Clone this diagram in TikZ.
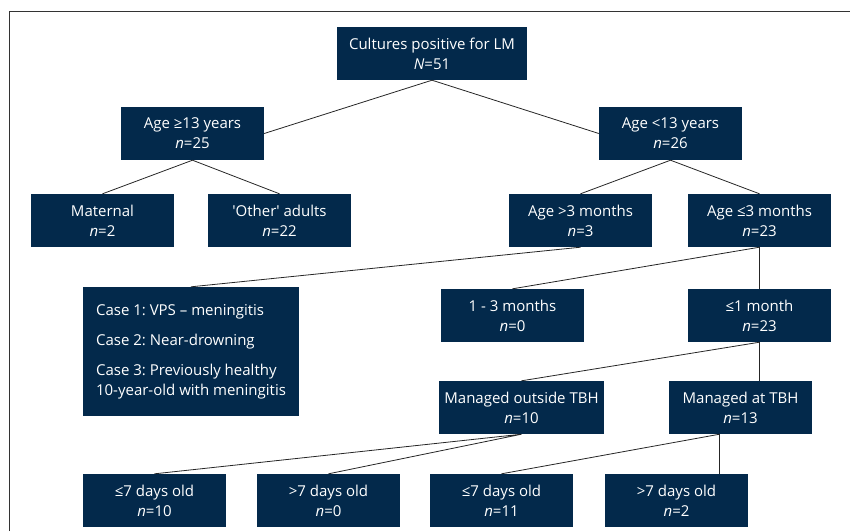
\documentclass[tikz,border=0pt]{standalone}
\usepackage{fontspec}
\setmainfont{Open Sans}
\definecolor{navy}{RGB}{3,41,75}
\frenchspacing

\begin{document}
\begin{tikzpicture}[x=1pt,y=-1pt,
    box/.style={fill=navy,text=white,minimum width=143pt,minimum height=53pt,inner sep=0pt,align=center,font=\fontsize{15}{20}\selectfont},
    link/.style={draw=black!85,line width=0.8pt}]
            \useasboundingbox (0,0) rectangle (850,531);
            \draw[black!80,line width=0.8pt] (9,531) -- (9,11) -- (850,11);
            \node[box,minimum width=190pt] (root) at (432,53.5) {Cultures positive for LM\\\textit{N}=51};
            \node[box] (old) at (192.5,133.5) {Age ≥13 years\\\textit{n}=25};
            \node[box] (young) at (670.5,133.5) {Age <13 years\\\textit{n}=26};
            \node[box] (mat) at (102.5,220.5) {Maternal\\\textit{n}=2};
            \node[box] (adults) at (279.5,220.5) {\textquotesingle Other\textquotesingle{} adults\\\textit{n}=22};
            \node[box] (gt3m) at (580.5,220.5) {Age >3 months\\\textit{n}=3};
            \node[box] (le3m) at (759.5,220.5) {Age ≤3 months\\\textit{n}=23};
            \node[box,minimum width=216pt,minimum height=129pt,align=left] (cases) at (191,351.5) {Case 1: VPS -- meningitis\\[10pt]Case 2: Near-drowning\\[10pt]Case 3: Previously healthy\\10-year-old with meningitis};
            \node[box] (m13) at (512.5,315.5) {1 - 3 months\\\textit{n}=0};
            \node[box] (le1m) at (759.5,315.5) {≤1 month\\\textit{n}=23};
            \node[box,minimum width=165pt] (out) at (521.5,407.5) {Managed outside TBH\\\textit{n}=10};
            \node[box] (tbh) at (740.5,407.5) {Managed at TBH\\\textit{n}=13};
            \node[box] (out7) at (154.5,500.5) {≤7 days old\\\textit{n}=10};
            \node[box] (out8) at (328.5,500.5) {>7 days old\\\textit{n}=0};
            \node[box] (in7) at (501.5,500.5) {≤7 days old\\\textit{n}=11};
            \node[box] (in8) at (676.5,500.5) {>7 days old\\\textit{n}=2};
            \coordinate (tbhout) at ([xshift=-21pt]tbh.south);
            \draw[link] (old.east) -- (root.south) -- (young.west);
            \draw[link] (mat.north) -- (old.south) -- (adults.north);
            \draw[link] (gt3m.north) -- (young.south) -- (le3m.north);
            \draw[link] (gt3m.south) -- (cases.north);
            \draw[link] (m13.north) -- (le3m.south) -- (le1m.north);
            \draw[link] (le1m.south) -- (out.north);
            \draw[link] (le1m.south) -- (le1m.south |- tbh.north);
            \draw[link] (out7.north) -- (out.south) -- (out8.north);
            \draw[link] (in7.north) -- (tbhout) -- (tbhout |- in8.north);
        \end{tikzpicture}
\end{document}
